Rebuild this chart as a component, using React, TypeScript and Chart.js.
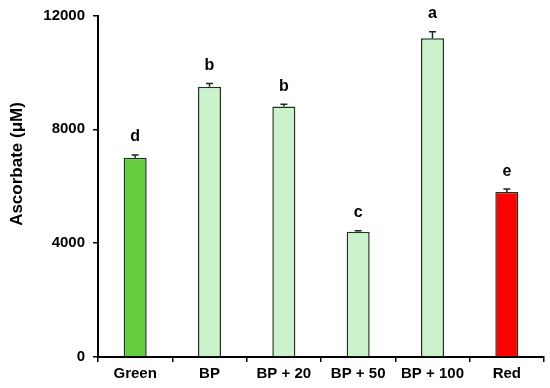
import React, { useEffect, useRef } from "react";
import { Chart, registerables } from "chart.js";

Chart.register(...registerables);

const categories = ["Green", "BP", "BP + 20", "BP + 50", "BP + 100", "Red"];
const values = [7000, 9500, 8800, 4400, 11200, 5800];
const errors = [100, 110, 80, 40, 230, 100];
const letters = ["d", "b", "b", "c", "a", "e"];
const barColors = ["#66CC3F", "#CCF2CC", "#CCF2CC", "#CCF2CC", "#CCF2CC", "#FF0000"];
const yTicks = [0, 4000, 8000, 12000];
const yTitle = "Ascorbate (μM)";

const FONT = "'Liberation Sans', Arial, sans-serif";

const errorPlugin = {
  id: "errLetters",
  afterDatasetsDraw(chart: any) {
    const ctx = chart.ctx;
    const meta = chart.getDatasetMeta(0);
    const ys = chart.scales.y;
    ctx.save();
    meta.data.forEach((bar: any, i: number) => {
      const x = bar.x;
      const top = ys.getPixelForValue(values[i]);
      const eTop = ys.getPixelForValue(values[i] + errors[i]);
      ctx.strokeStyle = "#1a2a1a";
      ctx.lineWidth = 1.5;
      ctx.beginPath();
      ctx.moveTo(x, top);
      ctx.lineTo(x, eTop);
      ctx.moveTo(x - 3.5, eTop);
      ctx.lineTo(x + 3.5, eTop);
      ctx.stroke();
      ctx.fillStyle = "#000";
      ctx.font = `bold 16px ${FONT}`;
      ctx.textAlign = "center";
      ctx.textBaseline = "middle";
      ctx.fillText(letters[i], x, eTop - 18);
    });
    // y-axis title
    ctx.translate(17, 164);
    ctx.rotate(-Math.PI / 2);
    ctx.font = `bold 17px ${FONT}`;
    ctx.textAlign = "center";
    ctx.textBaseline = "middle";
    ctx.fillStyle = "#000";
    ctx.fillText(yTitle, 0, 0);
    ctx.restore();
  },
};

export default function App() {
  const ref = useRef<HTMLCanvasElement>(null);
  useEffect(() => {
    if (!ref.current) return;
    const chart = new Chart(ref.current, {
      type: "bar",
      data: {
        labels: categories,
        datasets: [
          {
            data: values,
            backgroundColor: barColors,
            borderColor: "#1f331f",
            borderWidth: 1.5,
            barPercentage: 0.31,
            categoryPercentage: 1,
          },
        ],
      },
      options: {
        animation: false,
        responsive: false,
        maintainAspectRatio: false,
        layout: { padding: { top: 14, right: 6, left: 0, bottom: 0 } },
        plugins: { legend: { display: false }, tooltip: { enabled: false } },
        scales: {
          x: {
            afterFit: (s: any) => {
              s.height = 31;
            },
            border: { color: "#000", width: 2 },
            grid: {
              offset: true,
              drawOnChartArea: false,
              drawTicks: true,
              tickLength: 5,
              color: "#000",
              lineWidth: 1.5,
            },
            ticks: {
              color: "#000",
              padding: 3,
              font: { family: FONT, size: 15, weight: "bold" },
            },
          },
          y: {
            min: 0,
            max: 12000,
            afterFit: (s: any) => {
              s.width = 98;
            },
            afterBuildTicks: (s: any) => {
              s.ticks = yTicks.map((v) => ({ value: v }));
            },
            border: { color: "#000", width: 2 },
            grid: {
              drawOnChartArea: false,
              drawTicks: true,
              tickLength: 5,
              color: "#000",
              lineWidth: 1.5,
            },
            ticks: {
              color: "#000",
              padding: 8,
              callback: (v: any) => String(v),
              font: { family: FONT, size: 15, weight: "bold", lineHeight: 1 },
            },
          },
        },
      },
      plugins: [errorPlugin],
    });
    return () => chart.destroy();
  }, []);
  return (
    <div style={{ position: "absolute", left: 0, top: 0, width: 550, height: 388 }}>
      <canvas ref={ref} width={550} height={388} style={{ width: 550, height: 388 }} />
    </div>
  );
}
